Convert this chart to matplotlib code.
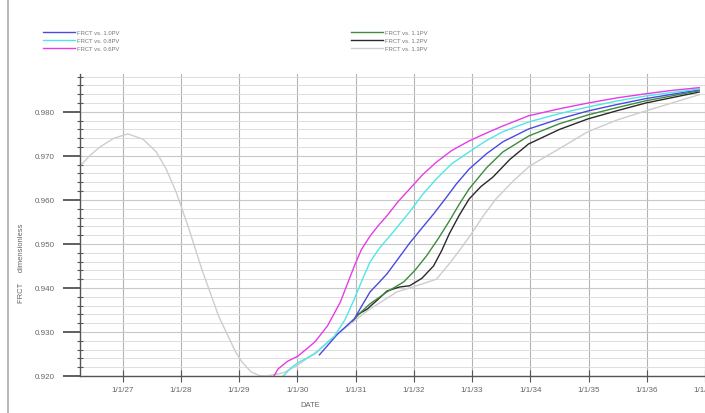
import matplotlib
matplotlib.use("Agg")
import matplotlib.pyplot as plt
from matplotlib.lines import Line2D
from matplotlib.ticker import MultipleLocator

plt.rcParams["font.family"] = ["Liberation Sans", "DejaVu Sans"]

# ---- data (decimal year, FRCT) ----
yr_06 = [1929.60, 1929.67, 1929.84, 1930.01, 1930.30, 1930.52, 1930.74, 1930.98, 1931.10,
         1931.25, 1931.40, 1931.54, 1931.73, 1931.93, 1932.15, 1932.39, 1932.65, 1932.95,
         1933.25, 1933.53, 1933.97, 1934.50, 1934.99, 1935.50, 1935.98, 1936.45, 1936.90]
fr_06 = [0.9200, 0.9216, 0.9234, 0.9245, 0.9277, 0.9314, 0.9368, 0.9450, 0.9487,
         0.9518, 0.9543, 0.9564, 0.9596, 0.9625, 0.9657, 0.9686, 0.9712, 0.9734,
         0.9752, 0.9768, 0.9791, 0.9807, 0.9820, 0.9832, 0.9841, 0.9849, 0.9855]

yr_08 = [1929.76, 1929.89, 1930.01, 1930.30, 1930.64, 1930.82, 1930.98, 1931.12, 1931.25,
         1931.42, 1931.59, 1931.93, 1932.15, 1932.39, 1932.65, 1932.95, 1933.25, 1933.53,
         1933.97, 1934.50, 1934.99, 1935.50, 1935.98, 1936.90]
fr_08 = [0.9200, 0.9218, 0.9230, 0.9250, 0.9291, 0.9328, 0.9375, 0.9420, 0.9459,
         0.9492, 0.9518, 0.9573, 0.9612, 0.9648, 0.9682, 0.9709, 0.9735, 0.9755,
         0.9777, 0.9796, 0.9811, 0.9825, 0.9836, 0.9852]

yr_10 = [1930.38, 1930.69, 1930.98, 1931.12, 1931.25, 1931.40, 1931.54, 1931.73, 1931.93,
         1932.14, 1932.34, 1932.55, 1932.73, 1932.95, 1933.25, 1933.53, 1933.97, 1934.50,
         1934.99, 1935.50, 1935.98, 1936.90]
fr_10 = [0.9248, 0.9295, 0.9330, 0.9362, 0.9391, 0.9412, 0.9432, 0.9466, 0.9502,
         0.9536, 0.9568, 0.9604, 0.9636, 0.9670, 0.9705, 0.9732, 0.9761, 0.9784,
         0.9802, 0.9817, 0.9830, 0.9850]

yr_11 = [1930.95, 1931.10, 1931.25, 1931.54, 1931.83, 1932.02, 1932.22, 1932.42, 1932.61,
         1932.78, 1932.95, 1933.25, 1933.53, 1933.97, 1934.50, 1934.99, 1935.50, 1935.98,
         1936.90]
fr_11 = [0.9325, 0.9346, 0.9364, 0.9391, 0.9414, 0.9440, 0.9473, 0.9512, 0.9552,
         0.9590, 0.9625, 0.9673, 0.9709, 0.9745, 0.9773, 0.9793, 0.9810, 0.9825,
         0.9848]

yr_12 = [1931.03, 1931.20, 1931.37, 1931.54, 1931.75, 1931.93, 1932.14, 1932.34, 1932.48,
         1932.61, 1932.78, 1932.95, 1933.15, 1933.36, 1933.65, 1933.97, 1934.50, 1934.99,
         1935.50, 1935.98, 1936.90]
fr_12 = [0.9339, 0.9352, 0.9372, 0.9393, 0.9402, 0.9405, 0.9422, 0.9450, 0.9485,
         0.9523, 0.9565, 0.9602, 0.9630, 0.9652, 0.9692, 0.9727, 0.9760, 0.9784,
         0.9803, 0.9820, 0.9845]

yr_13 = [1926.27, 1926.45, 1926.61, 1926.85, 1927.09, 1927.35, 1927.58, 1927.75, 1927.92,
         1928.14, 1928.36, 1928.65, 1928.94, 1929.05, 1929.21, 1929.35, 1929.47, 1929.76,
         1930.01, 1930.35, 1930.69, 1931.20, 1931.71, 1932.05, 1932.39, 1932.61, 1932.80,
         1932.99, 1933.20, 1933.41, 1933.70, 1933.99, 1934.43, 1934.99, 1935.50, 1935.98,
         1936.90]
fr_13 = [0.9677, 0.9702, 0.9720, 0.9740, 0.9750, 0.9738, 0.9709, 0.9670, 0.9618,
         0.9534, 0.9443, 0.9336, 0.9255, 0.9232, 0.9209, 0.9201, 0.9200, 0.9207,
         0.9225, 0.9257, 0.9295, 0.9348, 0.9391, 0.9405, 0.9420, 0.9455, 0.9488,
         0.9523, 0.9565, 0.9602, 0.9642, 0.9677, 0.9711, 0.9755, 0.9782, 0.9802,
         0.9839]

tick_years = list(range(1927, 1938))
tick_labels = ["1/1/27", "1/1/28", "1/1/29", "1/1/30", "1/1/31", "1/1/32",
               "1/1/33", "1/1/34", "1/1/35", "1/1/36", "1/1/37"]
y_ticks = [0.92, 0.93, 0.94, 0.95, 0.96, 0.97, 0.98]

series_left = [("FRCT vs. 1.0PV", yr_10, fr_10, "#4a4ae0"),
               ("FRCT vs. 0.8PV", yr_08, fr_08, "#50e6e6"),
               ("FRCT vs. 0.6PV", yr_06, fr_06, "#e63ce6")]
series_right = [("FRCT vs. 1.1PV", yr_11, fr_11, "#3c8c3c"),
                ("FRCT vs. 1.2PV", yr_12, fr_12, "#2a2a2a"),
                ("FRCT vs. 1.3PV", yr_13, fr_13, "#cdcdcd")]

fig = plt.figure(figsize=(7.05, 4.14), dpi=100)
ax = fig.add_axes([80 / 705, 1 - 377 / 414, 1 - 80 / 705, (377 - 75) / 414])

for lab, x, y, c in series_right[::-1] + series_left:
    ax.plot(x, y, color=c, lw=1.0, label=lab)

ax.set_xlim(1926.27, 1936.90)
ax.set_ylim(0.92, 0.9886)
ax.set_xticks(tick_years)
ax.set_xticklabels(tick_labels)
ax.set_yticks(y_ticks)
ax.set_yticklabels([f"{v:.3f}" for v in y_ticks])
ax.yaxis.set_minor_locator(MultipleLocator(0.002))

ax.grid(True, which="major", axis="x", color="#b4b4b4", lw=0.8)
ax.grid(True, which="major", axis="y", color="#c8c8c8", lw=0.8)
ax.grid(True, which="minor", axis="y", color="#dddddd", lw=0.7)
ax.set_axisbelow(True)

for s in ["top", "right"]:
    ax.spines[s].set_visible(False)
for s in ["left", "bottom"]:
    ax.spines[s].set_color("#555555")
    ax.spines[s].set_linewidth(1.0)

ax.tick_params(axis="y", which="major", direction="out", length=12, width=1.2,
               color="#444444", labelsize=5.8, labelcolor="#666666", pad=6)
ax.tick_params(axis="y", which="minor", direction="inout", length=5, width=0.8,
               color="#555555")
ax.tick_params(axis="x", which="major", direction="inout", length=8, width=0.8,
               color="#555555", labelsize=5.8, labelcolor="#666666", pad=3)

fig.text(310 / 705, 1 - 406 / 414, "DATE", fontsize=5.5, color="#666666",
         ha="center", va="center")
fig.text(22 / 705, 1 - 263 / 414, "FRCT     dimensionless", fontsize=5.5,
         color="#666666", rotation=90, ha="center", va="center")

# figure frame line at the left
fig.add_artist(Line2D([8 / 705, 8 / 705], [0, 1], color="#aaaaaa", lw=1.2,
                      transform=fig.transFigure))

h, l = ax.get_legend_handles_labels()
hd = dict(zip(l, h))
leg_kw = dict(frameon=False, fontsize=4.2, handlelength=5.5, handletextpad=0.3,
              labelspacing=0.5, borderpad=0, labelcolor="#777777")
fig.legend([hd[s[0]] for s in series_left], [s[0] for s in series_left],
           loc="upper left", bbox_to_anchor=(40 / 705, 1 - 28 / 414), **leg_kw)
fig.legend([hd[s[0]] for s in series_right], [s[0] for s in series_right],
           loc="upper left", bbox_to_anchor=(348 / 705, 1 - 28 / 414), **leg_kw)

fig.savefig("out.png", dpi=100)
